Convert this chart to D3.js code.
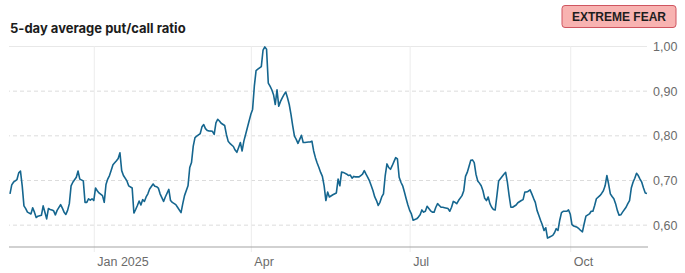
<!DOCTYPE html>
<html>
<head>
<meta charset="utf-8">
<style>
  body { margin: 0; background: #fff; }
  svg { display: block; font-family: "Liberation Sans", Arial, sans-serif; }
  .title { font-family: Inter, "Liberation Sans", sans-serif; font-weight: 700; font-size: 13px; fill: #1c1c1c; }
  .axis text { fill: #6b6b6b; font-size: 12.5px; }
  .axis .domain { display: none; }
  .badge text { font-family: "Liberation Sans", Arial, sans-serif; font-weight: 700; font-size: 12px; fill: #1e1e1e; }
</style>
</head>
<body>
<script src="https://cdn.jsdelivr.net/npm/d3@7"></script>
<script>

const width = 685;
const height = 273;
const margin = {top: 46, right: 38, bottom: 26, left: 10};

// 5-day average put/call ratio
const dates = [
  '2024-11-14','2024-11-15','2024-11-16','2024-11-18','2024-11-19','2024-11-20','2024-11-21','2024-11-22','2024-11-23','2024-11-24','2024-11-26','2024-11-27','2024-11-28','2024-11-29','2024-11-30',
  '2024-12-02','2024-12-03','2024-12-04','2024-12-05','2024-12-06','2024-12-07','2024-12-08','2024-12-09','2024-12-10','2024-12-11','2024-12-13','2024-12-14','2024-12-15','2024-12-16','2024-12-17','2024-12-18','2024-12-19','2024-12-20','2024-12-22','2024-12-23','2024-12-24','2024-12-26','2024-12-27','2024-12-28','2024-12-29','2024-12-30','2024-12-31',
  '2025-01-01','2025-01-02','2025-01-03','2025-01-04','2025-01-06','2025-01-07','2025-01-08','2025-01-09','2025-01-10','2025-01-11','2025-01-12','2025-01-14','2025-01-15','2025-01-16','2025-01-17','2025-01-18','2025-01-20','2025-01-21','2025-01-23','2025-01-24','2025-01-25','2025-01-26','2025-01-27','2025-01-28','2025-01-29','2025-01-30','2025-01-31',
  '2025-02-01','2025-02-02','2025-02-04','2025-02-05','2025-02-06','2025-02-07','2025-02-08','2025-02-10','2025-02-11','2025-02-13','2025-02-14','2025-02-15','2025-02-17','2025-02-18','2025-02-20','2025-02-21','2025-02-22','2025-02-24','2025-02-25','2025-02-26','2025-02-27','2025-02-28',
  '2025-03-01','2025-03-03','2025-03-04','2025-03-05','2025-03-06','2025-03-07','2025-03-08','2025-03-10','2025-03-11','2025-03-12','2025-03-13','2025-03-14','2025-03-15','2025-03-17','2025-03-18','2025-03-19','2025-03-20','2025-03-22','2025-03-23','2025-03-24','2025-03-25','2025-03-26','2025-03-27','2025-03-28','2025-03-29','2025-03-30','2025-03-31',
  '2025-04-01','2025-04-02','2025-04-03','2025-04-04','2025-04-05','2025-04-07','2025-04-08','2025-04-09','2025-04-10','2025-04-11','2025-04-12','2025-04-13','2025-04-14','2025-04-15','2025-04-16','2025-04-17','2025-04-18','2025-04-19','2025-04-20','2025-04-21','2025-04-22','2025-04-23','2025-04-24','2025-04-25','2025-04-26','2025-04-27','2025-04-28','2025-04-29','2025-04-30',
  '2025-05-01','2025-05-02','2025-05-04','2025-05-05','2025-05-06','2025-05-07','2025-05-08','2025-05-09','2025-05-10','2025-05-11','2025-05-12','2025-05-13','2025-05-14','2025-05-15','2025-05-16','2025-05-18','2025-05-20','2025-05-21','2025-05-22','2025-05-23','2025-05-24','2025-05-26','2025-05-27','2025-05-28','2025-05-29','2025-05-30','2025-05-31',
  '2025-06-01','2025-06-02','2025-06-03','2025-06-04','2025-06-05','2025-06-06','2025-06-07','2025-06-08','2025-06-09','2025-06-10','2025-06-11','2025-06-12','2025-06-13','2025-06-14','2025-06-15','2025-06-16','2025-06-17','2025-06-18','2025-06-19','2025-06-20','2025-06-21','2025-06-22','2025-06-23','2025-06-24','2025-06-25','2025-06-26','2025-06-27','2025-06-28','2025-06-29','2025-06-30',
  '2025-07-01','2025-07-02','2025-07-03','2025-07-05','2025-07-06','2025-07-07','2025-07-08','2025-07-09','2025-07-10','2025-07-11','2025-07-12','2025-07-13','2025-07-14','2025-07-15','2025-07-16','2025-07-17','2025-07-18','2025-07-19','2025-07-20','2025-07-21','2025-07-23','2025-07-24','2025-07-25','2025-07-26','2025-07-27','2025-07-28','2025-07-29','2025-07-31',
  '2025-08-01','2025-08-02','2025-08-03','2025-08-04','2025-08-05','2025-08-06','2025-08-07','2025-08-08','2025-08-09','2025-08-10','2025-08-11','2025-08-12','2025-08-13','2025-08-14','2025-08-15','2025-08-16','2025-08-17','2025-08-18','2025-08-19','2025-08-20','2025-08-21','2025-08-23','2025-08-24','2025-08-25','2025-08-26','2025-08-27','2025-08-28','2025-08-29','2025-08-31',
  '2025-09-01','2025-09-03','2025-09-04','2025-09-05','2025-09-06','2025-09-07','2025-09-08','2025-09-09','2025-09-10','2025-09-11','2025-09-12','2025-09-13','2025-09-14','2025-09-15','2025-09-16','2025-09-17','2025-09-18','2025-09-19','2025-09-21','2025-09-22','2025-09-23','2025-09-24','2025-09-25','2025-09-26','2025-09-27','2025-09-28','2025-09-29','2025-09-30',
  '2025-10-01','2025-10-02','2025-10-03','2025-10-05','2025-10-06','2025-10-07','2025-10-08','2025-10-09','2025-10-10','2025-10-12','2025-10-13','2025-10-14','2025-10-15','2025-10-16','2025-10-18','2025-10-19','2025-10-20','2025-10-21','2025-10-22','2025-10-23','2025-10-24','2025-10-25','2025-10-26','2025-10-27','2025-10-28','2025-10-29','2025-10-30','2025-10-31',
  '2025-11-02','2025-11-03','2025-11-04','2025-11-05','2025-11-06','2025-11-07','2025-11-08','2025-11-09','2025-11-10','2025-11-11','2025-11-12','2025-11-13','2025-11-14'
];

const ratios = [
  0.669,0.689,0.695,0.701,0.716,0.720,0.687,0.642,0.636,0.628,0.624,0.638,0.628,0.616,0.619,
  0.621,0.642,0.628,0.613,0.636,0.634,0.633,0.631,0.622,0.632,0.645,0.637,0.628,0.623,0.632,0.647,0.687,0.695,0.706,0.720,0.702,0.698,0.650,0.650,0.658,0.655,0.658,
  0.654,0.682,0.676,0.671,0.665,0.650,0.690,0.702,0.710,0.722,0.734,0.743,0.748,0.761,0.721,0.710,0.698,0.687,0.682,0.626,0.634,0.643,0.653,0.644,0.656,0.652,0.662,
  0.669,0.680,0.691,0.686,0.685,0.682,0.669,0.652,0.662,0.679,0.654,0.650,0.645,0.639,0.627,0.647,0.665,0.687,0.728,0.739,0.776,0.795,
  0.798,0.804,0.819,0.824,0.815,0.811,0.810,0.809,0.802,0.828,0.836,0.832,0.827,0.822,0.802,0.787,0.782,0.775,0.767,0.762,0.773,0.784,0.765,0.787,0.802,0.817,0.832,
  0.847,0.858,0.910,0.945,0.948,0.954,0.991,0.998,0.993,0.917,0.910,0.902,0.891,0.869,0.902,0.865,0.876,0.884,0.891,0.897,0.884,0.869,0.847,0.821,0.798,0.791,0.782,0.791,0.800,
  0.784,0.784,0.785,0.785,0.787,0.765,0.750,0.738,0.728,0.717,0.708,0.687,0.654,0.673,0.662,0.667,0.671,0.702,0.687,0.718,0.717,0.713,0.710,0.711,0.704,0.708,0.707,
  0.707,0.707,0.710,0.713,0.721,0.713,0.706,0.698,0.687,0.676,0.662,0.654,0.643,0.650,0.662,0.669,0.710,0.736,0.728,0.724,0.732,0.741,0.750,0.747,0.706,0.695,0.687,0.673,0.658,0.644,
  0.632,0.624,0.610,0.613,0.617,0.622,0.633,0.628,0.630,0.641,0.636,0.631,0.628,0.628,0.639,0.647,0.643,0.639,0.639,0.638,0.636,0.630,0.639,0.652,0.650,0.647,0.654,0.665,
  0.676,0.708,0.717,0.730,0.744,0.745,0.739,0.713,0.698,0.693,0.687,0.676,0.659,0.654,0.662,0.647,0.639,0.634,0.633,0.665,0.698,0.708,0.713,0.717,0.695,0.665,0.639,0.639,0.644,
  0.649,0.654,0.656,0.673,0.673,0.675,0.678,0.669,0.659,0.650,0.632,0.621,0.610,0.600,0.587,0.593,0.570,0.572,0.576,0.582,0.591,0.587,0.610,0.627,0.630,0.630,0.630,0.633,
  0.624,0.600,0.597,0.594,0.591,0.587,0.584,0.602,0.619,0.624,0.630,0.630,0.643,0.658,0.665,0.670,0.676,0.687,0.710,0.691,0.669,0.663,0.658,0.647,0.632,0.621,0.622,0.628,
  0.639,0.647,0.654,0.682,0.695,0.704,0.715,0.710,0.702,0.695,0.682,0.671,0.670
];

const yTicks = [0.6, 0.7, 0.8, 0.9, 1.0];
const yDomain = [0.55, 1.0];
const xTicks = ['2025-01-01', '2025-04-01', '2025-07-01', '2025-10-01'];
const xTickLabels = ['Jan 2025', 'Apr', 'Jul', 'Oct'];
const title = '5-day average put/call ratio';
const sentiment = 'EXTREME FEAR';

const parse = d3.timeParse('%Y-%m-%d');
const data = dates.map((d, i) => ({date: parse(d), value: ratios[i]}));

const innerW = width - margin.left - margin.right;
const innerH = height - margin.top - margin.bottom;

const svg = d3.select('body').append('svg')
    .attr('width', width)
    .attr('height', height);

const g = svg.append('g')
    .attr('transform', `translate(${margin.left}, ${margin.top})`);

const x = d3.scaleTime()
    .domain(d3.extent(data, d => d.date))
    .range([0, innerW]);

const y = d3.scaleLinear()
    .domain(yDomain)
    .range([innerH, 0]);

const comma = d3.formatLocale({decimal: ',', thousands: '.', grouping: [3], currency: ['', '€']}).format('.2f');

// title
svg.append('text')
    .attr('class', 'title')
    .attr('x', 10)
    .attr('y', 33)
    .text(title);

// badge
const badge = svg.append('g').attr('class', 'badge');
badge.append('rect')
    .attr('x', 562)
    .attr('y', 5.5)
    .attr('width', 114)
    .attr('height', 22)
    .attr('rx', 3)
    .style('fill', '#f8b3b1')
    .style('stroke', '#cf5560')
    .style('stroke-width', 1);
badge.append('text')
    .attr('x', 619)
    .attr('y', 21)
    .attr('text-anchor', 'middle')
    .text(sentiment);

// y axis on the right with gridlines
const yAxis = g.append('g')
    .attr('class', 'axis y')
    .attr('transform', `translate(${innerW}, 0)`)
    .call(d3.axisRight(y).tickValues(yTicks).tickFormat(comma).tickSize(-innerW - 1).tickPadding(6));

yAxis.selectAll('.tick line')
    .style('stroke', d => d === 1.0 ? '#e8e8e8' : '#dcdcdc')
    .style('stroke-dasharray', d => d === 1.0 ? null : '4,3');

yAxis.selectAll('.tick text')
    .attr('dy', '0.35em');

// x axis with vertical gridlines
const xAxis = g.append('g')
    .attr('class', 'axis x')
    .attr('transform', `translate(0, ${innerH})`)
    .call(d3.axisBottom(x).tickValues(xTicks.map(parse)).tickFormat((d, i) => xTickLabels[i]).tickSize(-innerH));

xAxis.selectAll('.tick line')
    .attr('y1', 5)
    .style('stroke', '#ececec');

xAxis.selectAll('.tick text')
    .attr('text-anchor', 'start')
    .attr('x', 3)
    .attr('y', 19)
    .attr('dy', 0);

// baseline
g.append('line')
    .attr('x1', -1)
    .attr('x2', innerW + 1)
    .attr('y1', innerH)
    .attr('y2', innerH)
    .style('stroke', '#a3a3a3')
    .style('stroke-width', 1);

// the ratio line
const line = d3.line()
    .x(d => x(d.date))
    .y(d => y(d.value));

g.append('path')
    .datum(data)
    .attr('d', line)
    .style('fill', 'none')
    .style('stroke', '#15668f')
    .style('stroke-width', 1.6)
    .style('stroke-linejoin', 'round');

</script>
</body>
</html>
